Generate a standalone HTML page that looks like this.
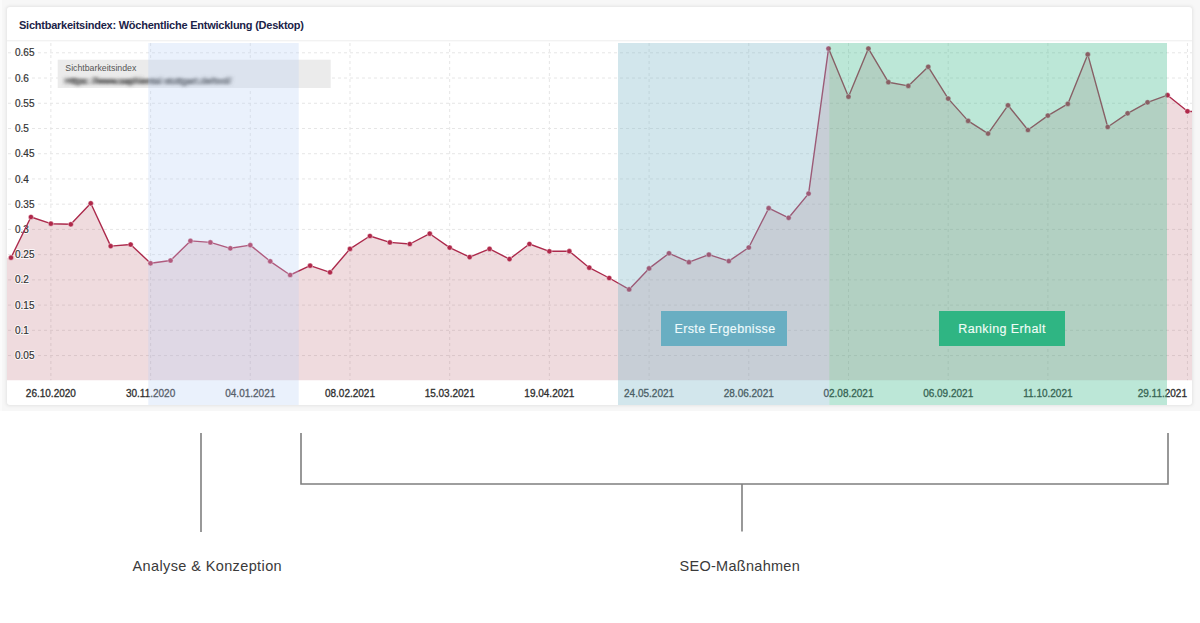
<!DOCTYPE html>
<html><head><meta charset="utf-8">
<style>
html,body{margin:0;padding:0;background:#fff;}
body{width:1200px;height:623px;position:relative;overflow:hidden;font-family:"Liberation Sans",sans-serif;}
svg{position:absolute;left:0;top:0;}
</style></head><body>
<svg width="1200" height="623" viewBox="0 0 1200 623">
<defs>
<clipPath id="plot"><rect x="7" y="43" width="1185" height="337.5"/></clipPath>
<filter id="blur" x="-10%" y="-100%" width="120%" height="300%"><feGaussianBlur stdDeviation="2.3 1.6"/></filter>
<filter id="sh" x="-5%" y="-5%" width="110%" height="110%"><feGaussianBlur stdDeviation="1.5"/></filter>
</defs>
<rect x="0" y="0" width="1200" height="411" fill="#f7f7f7"/><rect x="0" y="0" width="2.2" height="411" fill="#fbfbfb"/>
<rect x="6" y="6" width="1187" height="400" rx="3.5" fill="#e4e4e4" filter="url(#sh)"/>
<rect x="7" y="7" width="1185" height="398" rx="3" fill="#ffffff"/>
<text x="19" y="28.6" font-size="11" font-weight="bold" fill="#1b2348" letter-spacing="-0.24">Sichtbarkeitsindex: Wöchentliche Entwicklung (Desktop)</text>
<line x1="7" y1="40.8" x2="1192" y2="40.8" stroke="#ededed" stroke-width="1"/>
<g clip-path="url(#plot)">
<g stroke="#e6e6e6" stroke-width="1" stroke-dasharray="3 3" fill="none"><line x1="8" y1="355.57" x2="1192" y2="355.57"/><line x1="8" y1="330.34" x2="1192" y2="330.34"/><line x1="8" y1="305.11" x2="1192" y2="305.11"/><line x1="8" y1="279.88" x2="1192" y2="279.88"/><line x1="8" y1="254.65" x2="1192" y2="254.65"/><line x1="8" y1="229.42" x2="1192" y2="229.42"/><line x1="8" y1="204.19" x2="1192" y2="204.19"/><line x1="8" y1="178.96" x2="1192" y2="178.96"/><line x1="8" y1="153.73" x2="1192" y2="153.73"/><line x1="8" y1="128.5" x2="1192" y2="128.5"/><line x1="8" y1="103.27" x2="1192" y2="103.27"/><line x1="8" y1="78.04" x2="1192" y2="78.04"/><line x1="8" y1="52.81" x2="1192" y2="52.81"/><line x1="50.88" y1="43" x2="50.88" y2="380.5"/><line x1="150.58" y1="43" x2="150.58" y2="380.5"/><line x1="250.28" y1="43" x2="250.28" y2="380.5"/><line x1="349.98" y1="43" x2="349.98" y2="380.5"/><line x1="449.68" y1="43" x2="449.68" y2="380.5"/><line x1="549.38" y1="43" x2="549.38" y2="380.5"/><line x1="649.08" y1="43" x2="649.08" y2="380.5"/><line x1="748.78" y1="43" x2="748.78" y2="380.5"/><line x1="848.48" y1="43" x2="848.48" y2="380.5"/><line x1="948.18" y1="43" x2="948.18" y2="380.5"/><line x1="1047.88" y1="43" x2="1047.88" y2="380.5"/><line x1="1187.46" y1="43" x2="1187.46" y2="380.5"/></g>
<path d="M7 257.7 L11 257.7 L30.94 217 L50.88 223.7 L70.82 224.3 L90.76 203.3 L110.7 246.1 L130.64 244.5 L150.58 263.3 L170.52 260.5 L190.46 240.9 L210.4 242.4 L230.34 248.3 L250.28 245.1 L270.22 261.3 L290.16 275 L310.1 265.7 L330.04 272.3 L349.98 248.9 L369.92 236 L389.86 242.4 L409.8 244 L429.74 233.7 L449.68 247.6 L469.62 257.1 L489.56 248.9 L509.5 259.1 L529.44 244 L549.38 251.3 L569.32 251.2 L589.26 267.7 L609.2 278 L629.14 289.4 L649.08 268.4 L669.02 253.3 L688.96 262.2 L708.9 254.7 L728.84 261.1 L748.78 247.5 L768.72 208.2 L788.66 217.8 L808.6 193.6 L828.54 48.6 L848.48 96.7 L868.42 48.6 L888.36 82.2 L908.3 85.9 L928.24 66.8 L948.18 98.6 L968.12 120.9 L988.06 133.6 L1008 105.3 L1027.94 130 L1047.88 115.6 L1067.82 103.9 L1087.76 54.4 L1107.7 127 L1127.64 113.3 L1147.58 102.3 L1167.52 95.2 L1187.46 111.3 L1207.4 112.5 L1207.4 380.5 L7 380.5 Z" fill="rgb(175,75,90)" fill-opacity="0.2"/>
</g>
<g font-size="10" fill="#ffffff" stroke="#ffffff" stroke-width="2" stroke-linejoin="round" opacity="0.8"><text x="15" y="359.17">0.05</text><text x="15" y="333.94">0.1</text><text x="15" y="308.71">0.15</text><text x="15" y="283.48">0.2</text><text x="15" y="258.25">0.25</text><text x="15" y="233.02">0.3</text><text x="15" y="207.79">0.35</text><text x="15" y="182.56">0.4</text><text x="15" y="157.33">0.45</text><text x="15" y="132.1">0.5</text><text x="15" y="106.87">0.55</text><text x="15" y="81.64">0.6</text><text x="15" y="56.41">0.65</text></g><g font-size="10" fill="#333" stroke="#333" stroke-width="0.2"><text x="15" y="359.17">0.05</text><text x="15" y="333.94">0.1</text><text x="15" y="308.71">0.15</text><text x="15" y="283.48">0.2</text><text x="15" y="258.25">0.25</text><text x="15" y="233.02">0.3</text><text x="15" y="207.79">0.35</text><text x="15" y="182.56">0.4</text><text x="15" y="157.33">0.45</text><text x="15" y="132.1">0.5</text><text x="15" y="106.87">0.55</text><text x="15" y="81.64">0.6</text><text x="15" y="56.41">0.65</text></g>
<g clip-path="url(#plot)">
<path d="M11 257.7 L30.94 217 L50.88 223.7 L70.82 224.3 L90.76 203.3 L110.7 246.1 L130.64 244.5 L150.58 263.3 L170.52 260.5 L190.46 240.9 L210.4 242.4 L230.34 248.3 L250.28 245.1 L270.22 261.3 L290.16 275 L310.1 265.7 L330.04 272.3 L349.98 248.9 L369.92 236 L389.86 242.4 L409.8 244 L429.74 233.7 L449.68 247.6 L469.62 257.1 L489.56 248.9 L509.5 259.1 L529.44 244 L549.38 251.3 L569.32 251.2 L589.26 267.7 L609.2 278 L629.14 289.4 L649.08 268.4 L669.02 253.3 L688.96 262.2 L708.9 254.7 L728.84 261.1 L748.78 247.5 L768.72 208.2 L788.66 217.8 L808.6 193.6 L828.54 48.6 L848.48 96.7 L868.42 48.6 L888.36 82.2 L908.3 85.9 L928.24 66.8 L948.18 98.6 L968.12 120.9 L988.06 133.6 L1008 105.3 L1027.94 130 L1047.88 115.6 L1067.82 103.9 L1087.76 54.4 L1107.7 127 L1127.64 113.3 L1147.58 102.3 L1167.52 95.2 L1187.46 111.3 L1207.4 112.5" fill="none" stroke="#ac2a4c" stroke-width="1.4" stroke-linejoin="round"/>
<g fill="#b0284a" stroke="#fff" stroke-opacity="0.6" stroke-width="0.7"><circle cx="11" cy="257.7" r="2.6"/><circle cx="30.94" cy="217" r="2.6"/><circle cx="50.88" cy="223.7" r="2.6"/><circle cx="70.82" cy="224.3" r="2.6"/><circle cx="90.76" cy="203.3" r="2.6"/><circle cx="110.7" cy="246.1" r="2.6"/><circle cx="130.64" cy="244.5" r="2.6"/><circle cx="150.58" cy="263.3" r="2.6"/><circle cx="170.52" cy="260.5" r="2.6"/><circle cx="190.46" cy="240.9" r="2.6"/><circle cx="210.4" cy="242.4" r="2.6"/><circle cx="230.34" cy="248.3" r="2.6"/><circle cx="250.28" cy="245.1" r="2.6"/><circle cx="270.22" cy="261.3" r="2.6"/><circle cx="290.16" cy="275" r="2.6"/><circle cx="310.1" cy="265.7" r="2.6"/><circle cx="330.04" cy="272.3" r="2.6"/><circle cx="349.98" cy="248.9" r="2.6"/><circle cx="369.92" cy="236" r="2.6"/><circle cx="389.86" cy="242.4" r="2.6"/><circle cx="409.8" cy="244" r="2.6"/><circle cx="429.74" cy="233.7" r="2.6"/><circle cx="449.68" cy="247.6" r="2.6"/><circle cx="469.62" cy="257.1" r="2.6"/><circle cx="489.56" cy="248.9" r="2.6"/><circle cx="509.5" cy="259.1" r="2.6"/><circle cx="529.44" cy="244" r="2.6"/><circle cx="549.38" cy="251.3" r="2.6"/><circle cx="569.32" cy="251.2" r="2.6"/><circle cx="589.26" cy="267.7" r="2.6"/><circle cx="609.2" cy="278" r="2.6"/><circle cx="629.14" cy="289.4" r="2.6"/><circle cx="649.08" cy="268.4" r="2.6"/><circle cx="669.02" cy="253.3" r="2.6"/><circle cx="688.96" cy="262.2" r="2.6"/><circle cx="708.9" cy="254.7" r="2.6"/><circle cx="728.84" cy="261.1" r="2.6"/><circle cx="748.78" cy="247.5" r="2.6"/><circle cx="768.72" cy="208.2" r="2.6"/><circle cx="788.66" cy="217.8" r="2.6"/><circle cx="808.6" cy="193.6" r="2.6"/><circle cx="828.54" cy="48.6" r="2.6"/><circle cx="848.48" cy="96.7" r="2.6"/><circle cx="868.42" cy="48.6" r="2.6"/><circle cx="888.36" cy="82.2" r="2.6"/><circle cx="908.3" cy="85.9" r="2.6"/><circle cx="928.24" cy="66.8" r="2.6"/><circle cx="948.18" cy="98.6" r="2.6"/><circle cx="968.12" cy="120.9" r="2.6"/><circle cx="988.06" cy="133.6" r="2.6"/><circle cx="1008" cy="105.3" r="2.6"/><circle cx="1027.94" cy="130" r="2.6"/><circle cx="1047.88" cy="115.6" r="2.6"/><circle cx="1067.82" cy="103.9" r="2.6"/><circle cx="1087.76" cy="54.4" r="2.6"/><circle cx="1107.7" cy="127" r="2.6"/><circle cx="1127.64" cy="113.3" r="2.6"/><circle cx="1147.58" cy="102.3" r="2.6"/><circle cx="1167.52" cy="95.2" r="2.6"/><circle cx="1187.46" cy="111.3" r="2.6"/></g>
</g>
<g font-size="10" fill="#2e2e2e" stroke="#2e2e2e" stroke-width="0.3"><text x="50.88" y="397" text-anchor="middle">26.10.2020</text><text x="150.58" y="397" text-anchor="middle">30.11.2020</text><text x="250.28" y="397" text-anchor="middle">04.01.2021</text><text x="349.98" y="397" text-anchor="middle">08.02.2021</text><text x="449.68" y="397" text-anchor="middle">15.03.2021</text><text x="549.38" y="397" text-anchor="middle">19.04.2021</text><text x="649.08" y="397" text-anchor="middle">24.05.2021</text><text x="748.78" y="397" text-anchor="middle">28.06.2021</text><text x="848.48" y="397" text-anchor="middle">02.08.2021</text><text x="948.18" y="397" text-anchor="middle">06.09.2021</text><text x="1047.88" y="397" text-anchor="middle">11.10.2021</text><text x="1187" y="397" text-anchor="end">29.11.2021</text></g>
<rect x="57.7" y="59.7" width="273" height="28.3" fill="#ebebeb"/>
<text x="65.3" y="71.3" font-size="8.75" fill="#555">Sichtbarkeitsindex</text>
<g filter="url(#blur)"><text x="65" y="84.2" font-size="9.5" fill="#4a4a4a" stroke="#4a4a4a" stroke-width="0.6" textLength="166" lengthAdjust="spacingAndGlyphs">Https: //www.saphiental stuttgart.de/tool/</text></g>
<rect x="148.3" y="43" width="150.4" height="362" fill="#b8cff5" fill-opacity="0.3"/>
<rect x="618" y="43" width="211.3" height="362" fill="#7fb6c9" fill-opacity="0.35"/>
<rect x="829.3" y="43" width="337.7" height="362" fill="#48bd92" fill-opacity="0.37"/>
<rect x="661" y="311" width="126" height="35" fill="#69aec2"/>
<text x="725" y="333" font-size="12.5" fill="#eefafc" stroke="#eefafc" stroke-width="0.15" text-anchor="middle" letter-spacing="0.37">Erste Ergebnisse</text>
<rect x="939" y="311" width="126" height="35" fill="#2fb583"/>
<text x="1002" y="333" font-size="12.5" fill="#effcf6" stroke="#effcf6" stroke-width="0.15" text-anchor="middle" letter-spacing="0.4">Ranking Erhalt</text>
<g stroke="#7f7f7f" stroke-width="1.6" fill="none">
<line x1="201" y1="433" x2="201" y2="532"/>
<polyline points="301,433 301,484 1168,484 1168,433"/>
<line x1="742" y1="484" x2="742" y2="531.5"/>
</g>
<g font-size="14.5" fill="#3a3a3a" text-anchor="middle">
<text x="207.3" y="571" letter-spacing="0.38">Analyse &amp; Konzeption</text>
<text x="739.8" y="571" letter-spacing="0.28">SEO-Maßnahmen</text>
</g>
</svg>
</body></html>
